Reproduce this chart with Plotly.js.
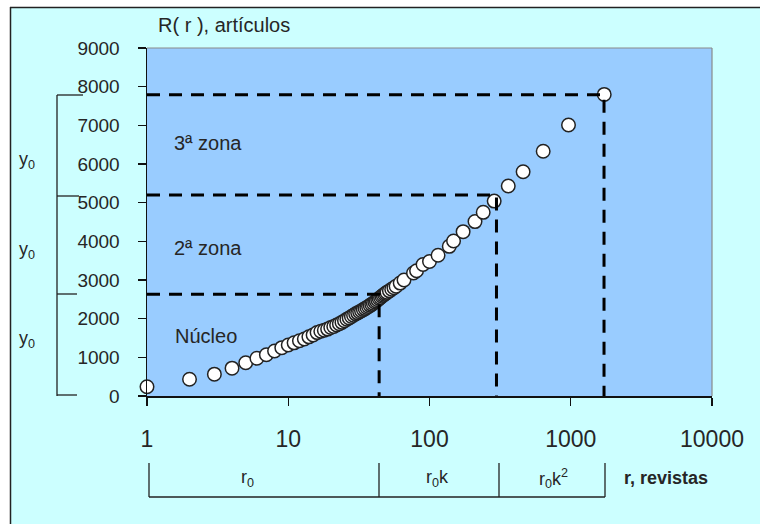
<!DOCTYPE html>
<html>
<head>
<meta charset="utf-8">
<script src="https://cdn.plot.ly/plotly-3.0.1.min.js"></script>
<style>html,body{margin:0;padding:0;background:#fff;}#chart{width:760px;height:524px;}</style>
</head>
<body>
<div id="chart"></div>
<script>
// ---- data ----
const ranks = [1,2,3,4,5,6,7,8,9,10,11,12,13,14,15,16,17,18,19,20,21,22,23,24,25,26,27,28,29,30,
  31,32,33,34,35,36,37,38,39,40,41,42,43,44,45,46,47,48,49,50,52,54,56,58,62,66,
  77,81,90,100,115,138,148,173,210,240,287,361,460,638,964,1726];
const articles = [240,435,565,720,860,975,1065,1165,1250,1320,1375,1430,1475,1530,1580,1640,1675,1700,1730,1770,
  1800,1835,1870,1905,1945,1985,2020,2055,2090,2125,2150,2180,2205,2235,2260,2290,2315,2345,2370,2400,
  2430,2455,2490,2520,2550,2580,2605,2630,2655,2680,2720,2760,2800,2840,2920,3000,
  3180,3240,3400,3480,3640,3870,4010,4250,4510,4750,5040,5430,5800,6330,7010,7800];
const zoneRanks = [44, 298, 1720];
const zoneArticles = [2630, 5200, 7790];
const xTickVals = [1, 10, 100, 1000, 10000];
const xTickText = ['1', '10', '100', '1000', '10000'];
const yTickVals = [0,1000,2000,3000,4000,5000,6000,7000,8000,9000];
const zoneLabels = ['Núcleo', '2ª zona', '3ª zona'];
const bracketLabels = ['r<sub>0</sub>', 'r<sub>0</sub>k', 'r<sub>0</sub>k<sup>2</sup>'];

// ---- geometry helpers (plot area in pixels) ----
const PL = 147, PR = 712, PT = 48, PB = 396;
const PW = PR - PL, PH = PB - PT;
const px = x => (x - PL) / PW;
const py = y => (PB - y) / PH;
const FONT = 'Liberation Sans, Arial, sans-serif';
const TXT = '#262626';

const traces = [{
  x: ranks, y: articles, type: 'scatter', mode: 'markers', cliponaxis: false,
  marker: {size: 13.5, color: '#ffffff', line: {color: '#222222', width: 1.5}},
  hoverinfo: 'skip'
}];
zoneRanks.forEach((r, i) => {
  traces.push({
    x: [1, r, r], y: [zoneArticles[i], zoneArticles[i], 0],
    type: 'scatter', mode: 'lines', hoverinfo: 'skip',
    line: {color: '#000', width: 3, dash: '13px,9px'}
  });
});

const shapes = [
  // white margins outside the chart frame
  {type: 'rect', xref: 'paper', yref: 'paper', x0: px(0), x1: px(760), y0: py(0), y1: py(7), fillcolor: '#fff', line: {width: 0}, layer: 'below'},
  {type: 'rect', xref: 'paper', yref: 'paper', x0: px(0), x1: px(10), y0: py(0), y1: py(524), fillcolor: '#fff', line: {width: 0}, layer: 'below'},
  // chart frame lines
  {type: 'line', xref: 'paper', yref: 'paper', x0: px(10), x1: px(760), y0: py(7.5), y1: py(7.5), line: {color: '#222', width: 1.5}},
  {type: 'line', xref: 'paper', yref: 'paper', x0: px(10.5), x1: px(10.5), y0: py(7), y1: py(524), line: {color: '#222', width: 1.5}},
  // gray top/right border of plot area
  {type: 'line', xref: 'paper', yref: 'paper', x0: 0, x1: 1, y0: 1, y1: 1, line: {color: '#8a8a8a', width: 1.2}},
  {type: 'line', xref: 'paper', yref: 'paper', x0: 1, x1: 1, y0: 0, y1: 1, line: {color: '#8a8a8a', width: 1.2}},
  // left bracket (y0)
  {type: 'line', xref: 'paper', yref: 'paper', x0: px(57), x1: px(57), y0: py(95), y1: py(396), line: {color: '#222', width: 1.3}},
  {type: 'line', xref: 'paper', yref: 'paper', x0: px(57), x1: px(83), y0: py(95), y1: py(95), line: {color: '#222', width: 1.3}},
  {type: 'line', xref: 'paper', yref: 'paper', x0: px(57), x1: px(79), y0: py(196), y1: py(196), line: {color: '#222', width: 1.3}},
  {type: 'line', xref: 'paper', yref: 'paper', x0: px(57), x1: px(77), y0: py(294), y1: py(294), line: {color: '#222', width: 1.3}},
  {type: 'line', xref: 'paper', yref: 'paper', x0: px(57), x1: px(77), y0: py(395), y1: py(395), line: {color: '#222', width: 1.3}},
  // bottom bracket (r0, r0k, r0k2)
  {type: 'line', xref: 'paper', yref: 'paper', x0: px(149), x1: px(605), y0: py(497), y1: py(497), line: {color: '#222', width: 1.3}},
  {type: 'line', xref: 'paper', yref: 'paper', x0: px(149), x1: px(149), y0: py(463), y1: py(497), line: {color: '#222', width: 1.3}},
  {type: 'line', xref: 'paper', yref: 'paper', x0: px(379), x1: px(379), y0: py(463), y1: py(497), line: {color: '#222', width: 1.3}},
  {type: 'line', xref: 'paper', yref: 'paper', x0: px(499), x1: px(499), y0: py(463), y1: py(497), line: {color: '#222', width: 1.3}},
  {type: 'line', xref: 'paper', yref: 'paper', x0: px(605), x1: px(605), y0: py(463), y1: py(497), line: {color: '#222', width: 1.3}}
];

function ann(text, x, y, size, extra) {
  return Object.assign({text: text, xref: 'paper', yref: 'paper', x: px(x), y: py(y),
    xanchor: 'center', yanchor: 'middle', showarrow: false,
    font: {family: FONT, size: size, color: TXT}}, extra || {});
}
const annotations = [
  ann('R( r ), artículos', 224, 25, 20),
  ann(zoneLabels[2], 208, 143, 20),
  ann(zoneLabels[1], 208, 248, 20),
  ann(zoneLabels[0], 206, 336, 20),
  ann('y<sub>0</sub>', 27, 160, 18),
  ann('y<sub>0</sub>', 27, 250, 18),
  ann('y<sub>0</sub>', 27, 339, 18),
  ann(bracketLabels[0], 247, 478, 18),
  ann(bracketLabels[1], 437, 478, 18),
  ann(bracketLabels[2], 553, 478, 18),
  ann('<b>r, revistas</b>', 622, 478, 18, {xanchor: 'left'})
];

const layout = {
  width: 760, height: 524,
  margin: {l: PL, r: 760 - PR, t: PT, b: 524 - PB, pad: 0},
  paper_bgcolor: '#ccffff', plot_bgcolor: '#99ccff',
  showlegend: false,
  font: {family: FONT, color: TXT},
  xaxis: {
    type: 'log', range: [0, 4], tickvals: xTickVals, ticktext: xTickText,
    ticks: 'outside', ticklen: 8, tickwidth: 1.3, tickcolor: '#111',
    showline: true, linecolor: '#111', linewidth: 1.5,
    showgrid: false, zeroline: false, ticklabelstandoff: 14,
    tickfont: {family: FONT, size: 23, color: TXT}
  },
  yaxis: {
    range: [0, 9000], tickvals: yTickVals,
    ticks: 'outside', ticklen: 8, tickwidth: 1.3, tickcolor: '#111',
    showline: true, linecolor: '#111', linewidth: 1.5,
    showgrid: false, zeroline: false, ticklabelstandoff: 14,
    tickfont: {family: FONT, size: 19, color: TXT}
  },
  shapes: shapes,
  annotations: annotations
};

Plotly.newPlot('chart', traces, layout, {staticPlot: true, displayModeBar: false});
</script>
</body>
</html>
